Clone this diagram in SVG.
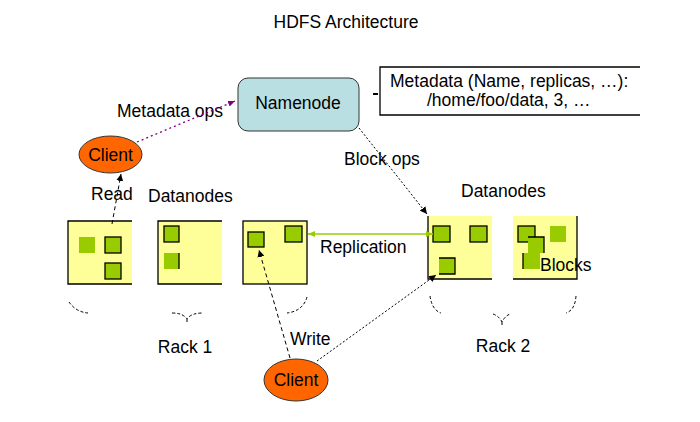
<svg xmlns="http://www.w3.org/2000/svg" width="700" height="422" viewBox="0 0 700 422">
<style>
text{font-family:"Liberation Sans",Arial,sans-serif;font-size:17.5px;fill:#000}
.dn{fill:#FFFF99}
.bd{fill:none;stroke:#000;stroke-width:1.3}
.blk{fill:#99CC00;stroke:#000;stroke-width:1.3}
.blkn{fill:#99CC00;stroke:none}
.cl{fill:#FF6600;stroke:#333;stroke-width:1}
.brace{fill:none;stroke:#000;stroke-width:1;stroke-dasharray:3,2}
</style>
<defs>
<marker id="ak" markerWidth="8" markerHeight="8" refX="7" refY="4" orient="auto" markerUnits="userSpaceOnUse"><path d="M0,0.5 L7,4 L0,7.5z" fill="#000"/></marker>
<marker id="ap" markerWidth="8" markerHeight="8" refX="7" refY="4" orient="auto" markerUnits="userSpaceOnUse"><path d="M0,1 L7,4 L0,7z" fill="#800080"/></marker>
<marker id="ag" markerWidth="8" markerHeight="8" refX="7" refY="4" orient="auto-start-reverse" markerUnits="userSpaceOnUse"><path d="M0,1 L7,4 L0,7z" fill="#99CC00"/></marker>
</defs>
<rect width="700" height="422" fill="#fff"/>
<text x="346" y="28" text-anchor="middle">HDFS Architecture</text>

<g id="namenode">
<rect x="238" y="78" width="121" height="53" rx="10" fill="#BADFE3" stroke="#333" stroke-width="1"/>
<text x="298" y="109" text-anchor="middle">Namenode</text>
</g>

<g id="metadata">
<path d="M640,67 H380 V115 H640" fill="#fff" stroke="#000" stroke-width="1.3"/>
<text x="390" y="87">Metadata (Name, replicas, …):</text>
<text x="427" y="106">/home/foo/data, 3, …</text>
</g>

<g id="client1">
<ellipse cx="110.5" cy="154.5" rx="31.5" ry="18.5" class="cl"/>
<text x="110.5" y="161" text-anchor="middle">Client</text>
</g>

<g id="client2">
<ellipse cx="296" cy="380" rx="32" ry="21" class="cl"/>
<text x="296" y="386" text-anchor="middle">Client</text>
</g>

<g id="rack1">
<g id="dn1">
<rect x="68" y="221" width="64" height="63" class="dn"/>
<path d="M132,221 H68 V284 H132" class="bd"/>
<rect x="79" y="237" width="16" height="16" class="blkn"/>
<rect x="105" y="237" width="16" height="16" class="blk"/>
<rect x="105" y="263" width="16" height="16" class="blk"/>
</g>
<g id="dn2">
<rect x="158" y="221" width="64" height="63" class="dn"/>
<path d="M222,221 H158 V284 H222" class="bd"/>
<rect x="164" y="226" width="15" height="16" class="blk"/>
<rect x="164" y="253" width="15" height="16" class="blkn"/>
<path d="M179,253 V269" class="bd"/>
</g>
<g id="dn3">
<rect x="243" y="221" width="64" height="63" class="dn"/>
<rect x="243" y="221" width="64" height="63" class="bd"/>
<rect x="248" y="232" width="16" height="15" class="blk"/>
<rect x="285" y="226" width="17" height="16" class="blk"/>
</g>
<path d="M69,302 Q76,312 88,313" class="brace"/>
<path d="M172,313 Q183,313 187,319 Q191,313 203,313 M187,319 V322" class="brace"/>
<path d="M307,297 Q303,311 287,313" class="brace"/>
<text x="185" y="353" text-anchor="middle">Rack 1</text>
</g>

<g id="rack2">
<g id="dn4">
<rect x="428" y="216" width="64" height="63" class="dn"/>
<path d="M428,216 V279 H492" class="bd"/>
<rect x="433" y="226" width="17" height="16" class="blk"/>
<rect x="470" y="226" width="17" height="16" class="blk"/>
<rect x="439" y="258" width="16" height="16" class="blkn"/>
<path d="M439,258 H455 V274 H439" class="bd"/>
</g>
<g id="dn5">
<rect x="513" y="216" width="64" height="63" class="dn"/>
<path d="M577,216 V279 H513" class="bd"/>
<rect x="518" y="226" width="17" height="16" class="blk"/>
<rect x="550" y="226" width="16" height="16" class="blkn"/>
<rect x="528" y="237" width="16" height="16" class="blkn"/>
<path d="M528,237 H544 V253" class="bd"/>
<rect x="523" y="253" width="17" height="16" class="blkn"/>
<path d="M523,253 V269" class="bd"/>
<text x="540" y="271">Blocks</text>
</g>
<path d="M430,296 Q432,310 441,313" class="brace"/>
<path d="M493,314 Q499,316 502,322 Q505,316 510,314 M502,322 V325" class="brace"/>
<path d="M576,296 Q575,310 566,313" class="brace"/>
<text x="503" y="352" text-anchor="middle">Rack 2</text>
</g>

<g id="labels">
<text x="117" y="117">Metadata ops</text>
<text x="91" y="200">Read</text>
<text x="148" y="202">Datanodes</text>
<text x="344" y="165">Block ops</text>
<text x="461" y="197">Datanodes</text>
<text x="320" y="253">Replication</text>
<text x="290" y="345">Write</text>
</g>

<g id="connectors">
<line x1="137" y1="142" x2="235" y2="101" stroke="#800080" stroke-width="1.3" stroke-dasharray="2,3" marker-end="url(#ap)"/>
<line x1="112" y1="224" x2="121" y2="174" stroke="#000" stroke-width="1" stroke-dasharray="4,3" marker-end="url(#ak)"/>
<line x1="359" y1="128" x2="427" y2="214" stroke="#000" stroke-width="1" stroke-dasharray="2,2" marker-end="url(#ak)"/>
<line x1="373" y1="94" x2="378" y2="94" stroke="#000" stroke-width="2"/>
<line x1="308" y1="234" x2="433" y2="234" stroke="#99CC00" stroke-width="1.5" marker-start="url(#ag)" marker-end="url(#ag)"/>
<line x1="290" y1="358" x2="259" y2="250" stroke="#000" stroke-width="1" stroke-dasharray="4,3" marker-end="url(#ak)"/>
<line x1="317" y1="361" x2="436" y2="275" stroke="#000" stroke-width="1" stroke-dasharray="2,2" marker-end="url(#ak)"/>
</g>
</svg>
